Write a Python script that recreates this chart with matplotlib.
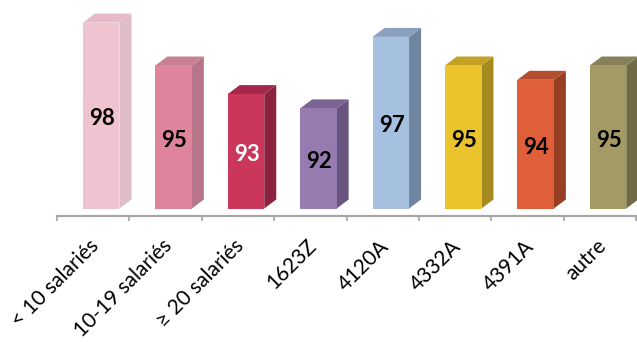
import matplotlib
matplotlib.use('Agg')
import matplotlib.pyplot as plt

# --- Data ---
categories = ['< 10 salariés', '10-19 salariés', '≥ 20 salariés', '1623Z', '4120A', '4332A', '4391A', 'autre']
values = [98, 95, 93, 92, 97, 95, 94, 95]

front_colors = ['#F0C3D1', '#DF849D', '#CB365B', '#957BAF', '#A6C0E0', '#EBC32D', '#DF5F3B', '#A39A66']
top_colors = ['#E6BAC8', '#C77F94', '#A3284A', '#7A6491', '#8AA0BE', '#C2A123', '#B24D30', '#87805A']
side_colors = ['#DFBCCA', '#B87589', '#8C2140', '#67557F', '#7086A0', '#A58A1F', '#963F25', '#706A45']
label_colors = ['black', 'black', 'white', 'black', 'black', 'black', 'black', 'black']

# --- Layout ---
W, H = 637, 342
BASE = 85
PX_PER_UNIT = 14.3      # vertical pixels for one value unit
PX_PER_CAT = 72.4       # horizontal pixels for one category
AXIS_Y = 216
AXIS_X = 57
BAR_W = 36.5 / PX_PER_CAT
SHIFT = 8 / PX_PER_CAT  # front face offset from the slot centre
DX = 12 / PX_PER_CAT
DY = 9 / PX_PER_UNIT

plt.rcParams['font.family'] = ['Lato', 'DejaVu Sans']

fig = plt.figure(figsize=(W / 100, H / 100), dpi=100)
ax = fig.add_axes([AXIS_X / W, 1 - AXIS_Y / H, 1 - AXIS_X / W, AXIS_Y / H])
ax.set_xlim(-0.5, -0.5 + (W - AXIS_X) / PX_PER_CAT)
ax.set_ylim(BASE - 7.5 / PX_PER_UNIT, BASE + 208.5 / PX_PER_UNIT)

for i, v in enumerate(values):
    left = i + SHIFT - BAR_W / 2
    right = left + BAR_W
    # side and top faces of the fake 3D box
    ax.fill([right, right + DX, right + DX, right],
            [BASE, BASE + DY, v + DY, v], color=side_colors[i], lw=0)
    ax.fill([left, left + DX, right + DX, right],
            [v, v + DY, v + DY, v], color=top_colors[i], lw=0)
    ax.bar(i + SHIFT, v - BASE, width=BAR_W, bottom=BASE, color=front_colors[i])
    ax.text(i + SHIFT + 0.01, (v + BASE) / 2 - 0.22, str(v), ha='center', va='center',
            fontsize=16, fontweight='bold', color=label_colors[i])

    ax.annotate(categories[i], xy=(i, 0), xycoords=('data', 'axes fraction'),
                xytext=(3, -27), textcoords='offset pixels', rotation=45,
                ha='right', va='center', rotation_mode='anchor',
                fontsize=15, color='black', annotation_clip=False)

for s in ['top', 'left', 'right']:
    ax.spines[s].set_visible(False)
ax.spines['bottom'].set_color('#A6A6A6')
ax.spines['bottom'].set_linewidth(1.6)
ax.set_yticks([])
ax.set_xticks([i - 0.5 for i in range(len(categories) + 1)])
ax.set_xticklabels([])
ax.tick_params(axis='x', length=3.5, width=1.2, color='#A6A6A6')

plt.savefig('out.png', dpi=100)
